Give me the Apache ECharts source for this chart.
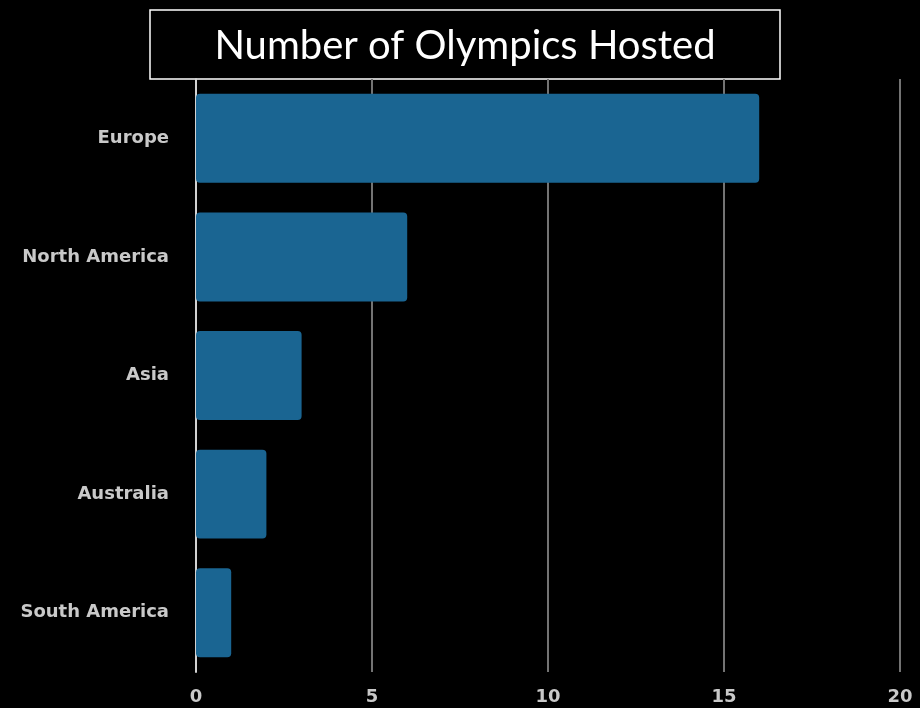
<!DOCTYPE html>
<html>
<head>
<meta charset="utf-8">
<title>Number of Olympics Hosted</title>
<script src="https://cdn.jsdelivr.net/npm/echarts@6/dist/echarts.min.js"></script>
<style>
  html, body { margin: 0; padding: 0; background: #000; }
  #chart { width: 920px; height: 708px; }
</style>
</head>
<body>
<div id="chart"></div>
<script>
// Continents and how many Olympic Games each has hosted
var continents = ['Europe', 'North America', 'Asia', 'Australia', 'South America'];
var gamesHosted = [16, 6, 3, 2, 1];
var xTicks = [0, 5, 10, 15, 20];
var chartTitle = 'Number of Olympics Hosted';

var chart = echarts.init(document.getElementById('chart'), null, { renderer: 'canvas' });

var labelFont = {
  color: '#c9c9c9',
  fontFamily: 'DejaVu Sans',
  fontWeight: 'bold',
  fontSize: 18
};

chart.setOption({
  backgroundColor: '#000000',
  animation: false,
  grid: { left: 196, right: 20, top: 79, bottom: 36, containLabel: false },
  xAxis: {
    type: 'value',
    min: xTicks[0],
    max: xTicks[xTicks.length - 1],
    interval: xTicks[1] - xTicks[0],
    axisLine: { show: false },
    axisTick: { show: false },
    splitLine: { show: true, lineStyle: { color: '#737373', width: 2 } },
    axisLabel: Object.assign({ margin: 16 }, labelFont)
  },
  yAxis: {
    type: 'category',
    data: continents,
    inverse: true,
    axisLine: { show: true, lineStyle: { color: '#d2d2d2', width: 2 } },
    axisTick: { show: false },
    splitLine: { show: false },
    axisLabel: Object.assign({ margin: 27 }, labelFont)
  },
  series: [{
    type: 'bar',
    data: gamesHosted,
    barCategoryGap: '25%',
    itemStyle: { color: '#1a6592', borderRadius: 4 },
    z: 3
  }],
  graphic: [{
    type: 'group',
    z: 100,
    children: [{
      type: 'rect',
      shape: { x: 150, y: 10, width: 630, height: 69 },
      style: { fill: '#000000', stroke: '#ffffff', lineWidth: 1.5 }
    }, {
      type: 'text',
      x: 465,
      y: 46,
      style: {
        text: chartTitle,
        fill: '#ffffff',
        font: 'normal 40px Lato',
        align: 'center',
        verticalAlign: 'middle'
      }
    }]
  }]
});
</script>
</body>
</html>
